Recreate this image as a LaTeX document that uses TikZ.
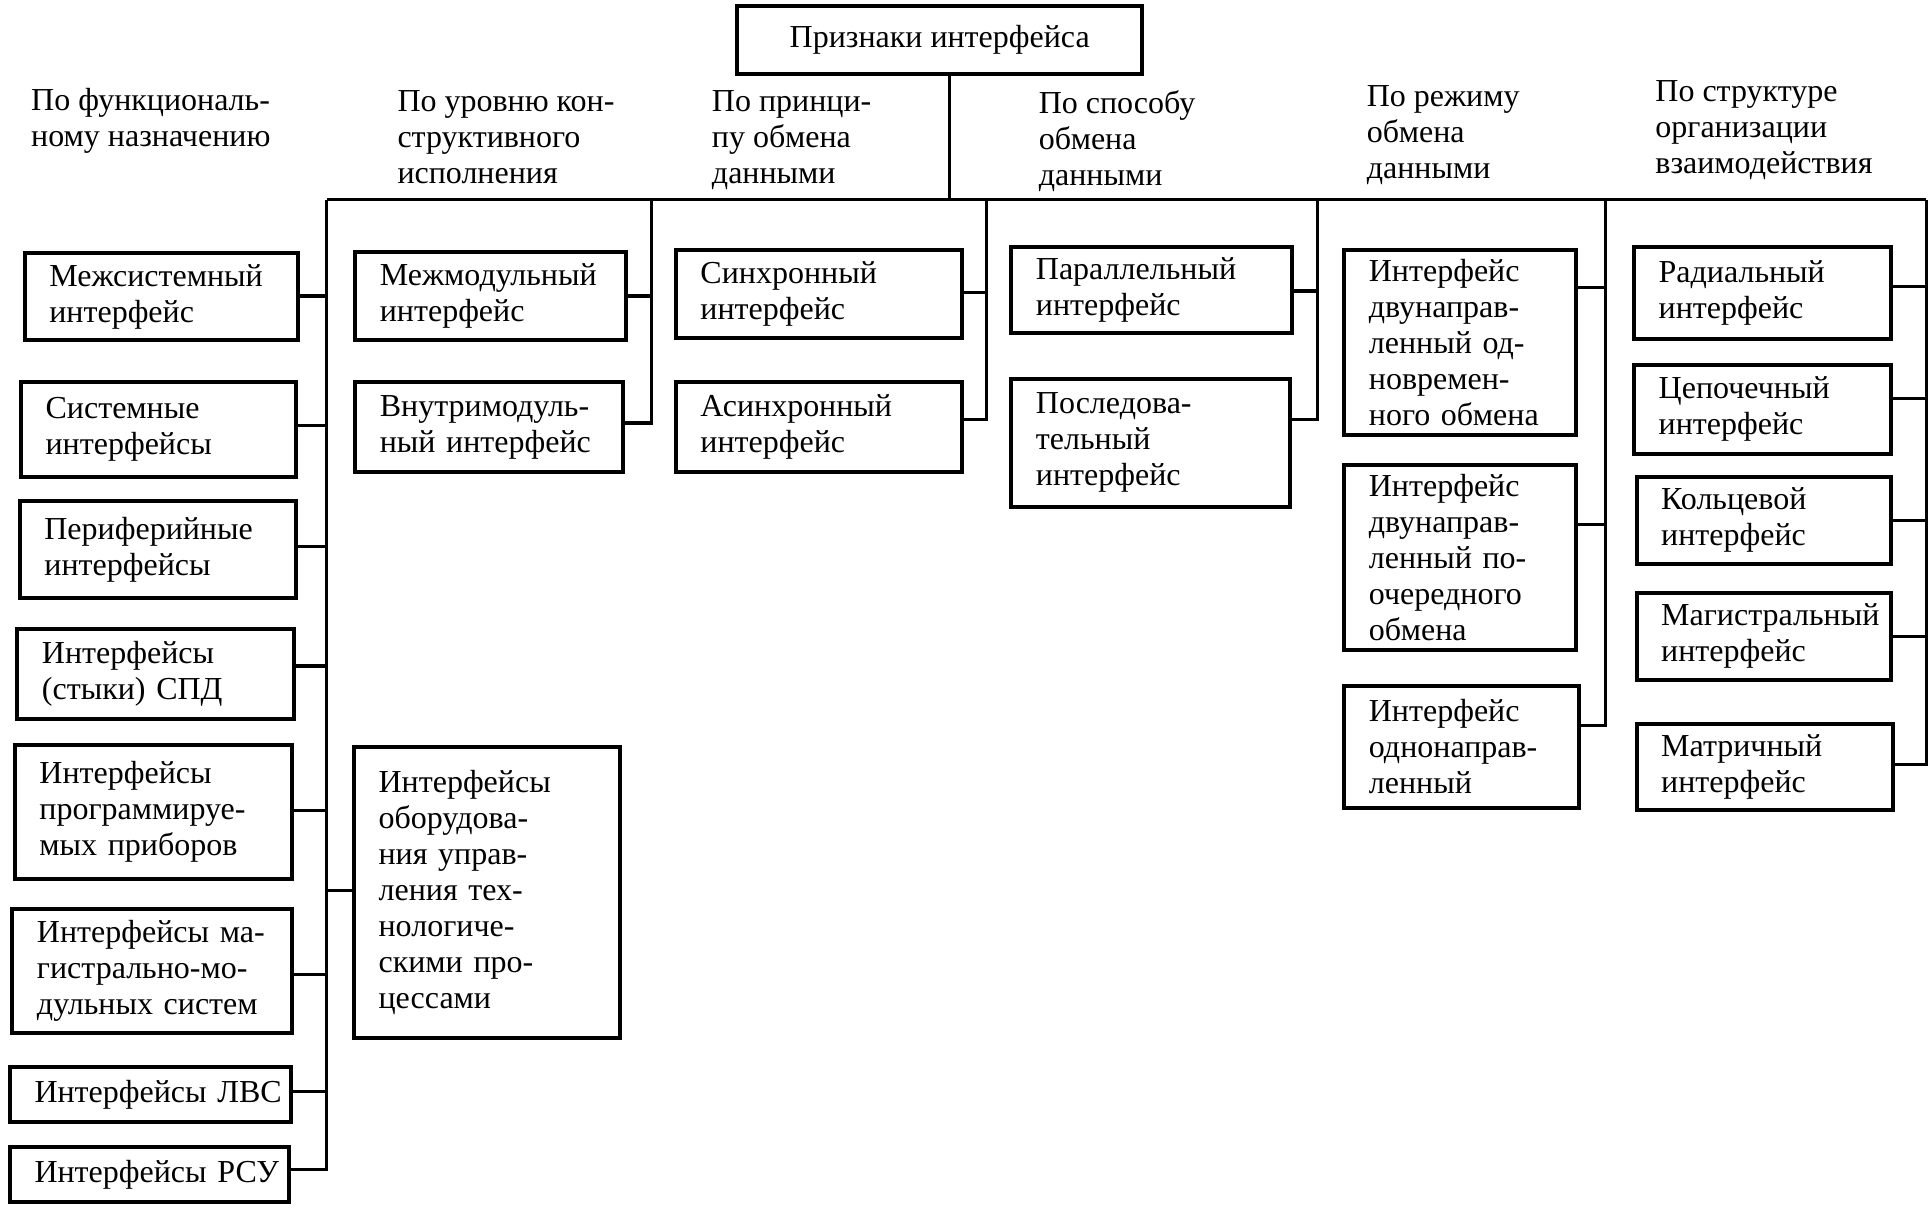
\documentclass[tikz,border=0pt]{standalone}
\usepackage{fontspec}
\setmainfont{Liberation Serif}
\tikzset{
  bx/.style={draw, line width=2pt, rectangle, align=left, inner ysep=2pt,
    font=\fontsize{16}{18}\selectfont},
  hd/.style={align=left, inner sep=0pt, anchor=north west,
    font=\fontsize{16}{18}\selectfont},
  ln/.style={line width=1.6pt, line join=miter},
  bus/.style={line width=1.4pt}
}
\newcommand\mkbox[6]{%
  \pgfmathsetmacro\bw{(#4-#2)*0.6167}%
  \pgfmathsetmacro\bh{(#5-#3)*0.6167}%
  \pgfmathsetmacro\tw{(#4-#2-40)*0.6167}%
  \node[bx, minimum width=\bw pt, minimum height=\bh pt, text width=\tw pt,
    inner xsep=12.33pt] (#1) at ({(#2+#4)/2},{(#3+#5)/2}) {#6};}
\begin{document}
\begin{tikzpicture}[x=0.6167pt, y=-0.6167pt]
\useasboundingbox (0,0) rectangle (1565,979.5);

% top
\node[draw, line width=2pt, minimum width={328*0.6167pt}, minimum height={55*0.6167pt},
  font=\fontsize{16}{18}\selectfont] (top) at (762,32.5) {Признаки интерфейса};

% headers
\node[hd] (h1) at (25,71) {По функциональ-\\ному назначению};
\node[hd] (h2) at (322,73) {По уровню кон-\\структивного\\исполнения};
\node[hd] (h3) at (577,73) {По принци-\\пу обмена\\данными};
\node[hd] (h4) at (842,73) {По способу\\обмена\\данными};
\node[hd] (h5) at (1108,69) {По режиму\\обмена\\данными};
\node[hd] (h6) at (1342,65) {По структуре\\организации\\взаимодействия};

% column 1
\mkbox{b11}{20}{205}{242}{276}{Межсистемный\\интерфейс}
\mkbox{b12}{17}{310}{240}{387}{Системные\\интерфейсы}
\mkbox{b13}{16}{406}{240}{485}{Периферийные\\интерфейсы}
\mkbox{b14}{14}{510}{238}{583}{Интерфейсы\\(стыки) СПД}
\mkbox{b15}{12}{604}{237}{713}{Интерфейсы\\программируе-\\мых приборов}
\mkbox{b16}{10}{737}{237}{838}{Интерфейсы ма-\\гистрально-мо-\\дульных систем}
\mkbox{b17}{8}{865}{236}{910}{\mbox{Интерфейсы ЛВС}}
\mkbox{b18}{8}{930}{234}{975}{\mbox{Интерфейсы РСУ}}

% column 2
\mkbox{b21}{288}{204}{508}{276}{Межмодульный\\интерфейс}
\mkbox{b22}{288}{310}{505}{383}{Внутримодуль-\\ный интерфейс}
\mkbox{b23}{287}{606}{503}{842}{Интерфейсы\\оборудова-\\ния управ-\\ления тех-\\нологиче-\\скими про-\\цессами}

% column 3
\mkbox{b31}{548}{203}{780}{274}{Синхронный\\интерфейс}
\mkbox{b32}{548}{310}{780}{383}{Асинхронный\\интерфейс}

% column 4
\mkbox{b41}{820}{200}{1048}{270}{Параллельный\\интерфейс}
\mkbox{b42}{820}{307}{1046}{411}{Последова-\\тельный\\интерфейс}

% column 5
\mkbox{b51}{1090}{203}{1278}{353}{Интерфейс\\двунаправ-\\ленный од-\\новремен-\\ного обмена}
\mkbox{b52}{1090}{377}{1278}{527}{Интерфейс\\двунаправ-\\ленный по-\\очередного\\обмена}
\mkbox{b53}{1090}{556}{1280}{655}{Интерфейс\\однонаправ-\\ленный}

% column 6
\mkbox{b61}{1325}{200}{1533}{275}{Радиальный\\интерфейс}
\mkbox{b62}{1325}{296}{1533}{368}{Цепочечный\\интерфейс}
\mkbox{b63}{1327}{387}{1533}{457}{Кольцевой\\интерфейс}
\mkbox{b64}{1327}{481}{1533}{551}{Магистральный\\интерфейс}
\mkbox{b65}{1327}{587}{1535}{657}{Матричный\\интерфейс}

% bus
\coordinate (busL) at (265,162);
\coordinate (busR) at (1562,162);
\coordinate (t0) at (770,162);
\draw[bus] (busL) -- (busR);
\draw[ln] (top.south -| t0) -- (t0);

% column 1 connectors
\coordinate (v1) at (265,162);
\coordinate (j11) at (265,240);
\coordinate (j12) at (265,345);
\coordinate (j13) at (265,443);
\coordinate (j14) at (265,540);
\coordinate (j15) at (265,657);
\coordinate (j16) at (265,790);
\coordinate (j17) at (265,885);
\coordinate (j18) at (265,948);
\coordinate (j23) at (265,722);
\draw[ln] (b18.east |- j18) -- (j18) -- (v1);
\draw[ln] (b11.east |- j11) -- (j11);
\draw[ln] (b12.east |- j12) -- (j12);
\draw[ln] (b13.east |- j13) -- (j13);
\draw[ln] (b14.east |- j14) -- (j14);
\draw[ln] (b15.east |- j15) -- (j15);
\draw[ln] (b16.east |- j16) -- (j16);
\draw[ln] (b17.east |- j17) -- (j17);
\draw[ln] (b23.west |- j23) -- (j23);

% column 2 connectors
\coordinate (v2) at (528,162);
\coordinate (j21) at (528,240);
\coordinate (j22) at (528,343);
\draw[ln] (b22.east |- j22) -- (j22) -- (v2);
\draw[ln] (b21.east |- j21) -- (j21);

% column 3 connectors
\coordinate (v3) at (800,162);
\coordinate (j31) at (800,237);
\coordinate (j32) at (800,340);
\draw[ln] (b32.east |- j32) -- (j32) -- (v3);
\draw[ln] (b31.east |- j31) -- (j31);

% column 4 connectors
\coordinate (v4) at (1068,162);
\coordinate (j41) at (1068,236);
\coordinate (j42) at (1068,340);
\draw[ln] (b42.east |- j42) -- (j42) -- (v4);
\draw[ln] (b41.east |- j41) -- (j41);

% column 5 connectors
\coordinate (v5) at (1302,162);
\coordinate (j51) at (1302,233);
\coordinate (j52) at (1302,425);
\coordinate (j53) at (1302,588);
\draw[ln] (b53.east |- j53) -- (j53) -- (v5);
\draw[ln] (b51.east |- j51) -- (j51);
\draw[ln] (b52.east |- j52) -- (j52);

% column 6 connectors
\coordinate (v6) at (1562,162);
\coordinate (j61) at (1562,232);
\coordinate (j62) at (1562,323);
\coordinate (j63) at (1562,422);
\coordinate (j64) at (1562,516);
\coordinate (j65) at (1562,620);
\draw[ln] (b65.east |- j65) -- (j65) -- (v6);
\draw[ln] (b61.east |- j61) -- (j61);
\draw[ln] (b62.east |- j62) -- (j62);
\draw[ln] (b63.east |- j63) -- (j63);
\draw[ln] (b64.east |- j64) -- (j64);
\end{tikzpicture}
\end{document}
